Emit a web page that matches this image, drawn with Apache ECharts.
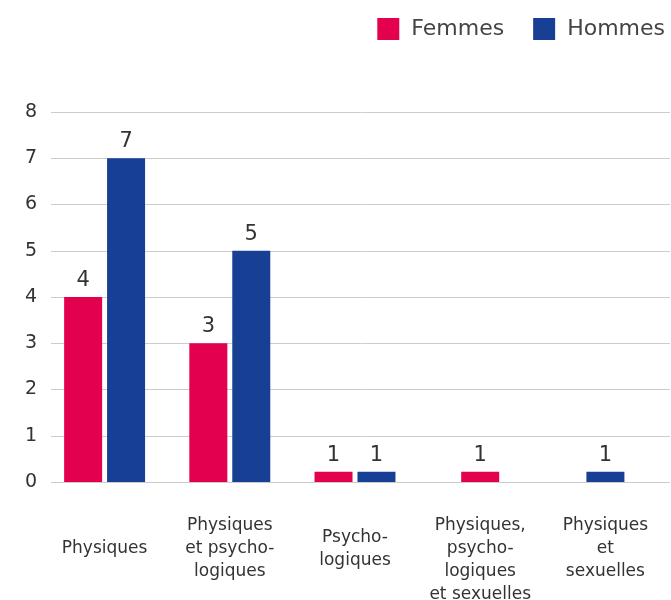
<!DOCTYPE html>
<html><head><meta charset="utf-8">
<script src="https://cdn.jsdelivr.net/npm/echarts@6/dist/echarts.min.js"></script>
<style>html,body{margin:0;padding:0;background:#fff}#c{width:671px;height:600px}</style>
</head><body><div id="c"></div>
<script>
const categories = ['Physiques', 'Physiques\net psycho-\nlogiques', 'Psycho-\nlogiques', 'Physiques,\npsycho-\nlogiques\net sexuelles', 'Physiques\net\nsexuelles'];
// values shown as labels
const femmesValues = [4, 3, 1, 1, null];
const hommesValues = [7, 5, 1, null, 1];
// bar heights as drawn in the reference
const femmesHeights = [4, 3, 0.22, 0.22, null];
const hommesHeights = [7, 5, 0.22, null, 0.22];
const yTicks = [0, 1, 2, 3, 4, 5, 6, 7, 8];

const RED = '#e3004f', BLUE = '#173f94';
const FONT = 'DejaVu Sans';

const pairedF = [], pairedH = [], single = [];
for (let i = 0; i < categories.length; i++) {
  const hasF = femmesHeights[i] != null, hasH = hommesHeights[i] != null;
  if (hasF && hasH) {
    pairedF.push({value: femmesHeights[i], lab: femmesValues[i]});
    pairedH.push({value: hommesHeights[i], lab: hommesValues[i]});
    single.push(null);
  } else {
    pairedF.push(null); pairedH.push(null);
    if (hasF) single.push({value: femmesHeights[i], lab: femmesValues[i], itemStyle: {color: RED}});
    else if (hasH) single.push({value: hommesHeights[i], lab: hommesValues[i], itemStyle: {color: BLUE}});
    else single.push(null);
  }
}

const labelCfg = {
  show: true, position: 'top', distance: 6,
  fontFamily: FONT, fontSize: 21, color: '#333',
  formatter: p => (p.data && p.data.lab != null) ? String(p.data.lab) : ''
};

const LINE_H = 23;
const catLabelStyle = {fontFamily: FONT, fontSize: 17, lineHeight: LINE_H, color: '#333', verticalAlign: 'middle'};
// labels longer than 3 lines start at the same top as the 3-line ones
const xData = categories.map(c => {
  const lines = c.split('\n').length;
  return lines > 3 ? {value: c, textStyle: Object.assign({}, catLabelStyle, {verticalAlign: 'top', padding: [-1.5 * LINE_H, 0, 0, 0]})} : c;
});

const chart = echarts.init(document.getElementById('c'));
chart.setOption({
  animation: false,
  legend: {
    data: ['Femmes', 'Hommes'], right: 1, top: 13, itemWidth: 22, itemHeight: 22, itemGap: 29,
    icon: 'rect',
    textStyle: {fontFamily: FONT, fontSize: 22, color: '#444', padding: [0, 0, 0, 7]}
  },
  grid: [
    {left: 51, right: 1, top: 112, bottom: 118, outerBoundsMode: 'none', containLabel: false},
    {left: 42, right: 3, top: 112, bottom: 118, outerBoundsMode: 'none', containLabel: false}
  ],
  xAxis: [
    {gridIndex: 0, type: 'category', data: categories, show: false},
    {gridIndex: 1, type: 'category', data: xData,
      axisLine: {show: false}, axisTick: {show: false},
      axisLabel: Object.assign({interval: 0, margin: 67}, catLabelStyle)},
    {gridIndex: 1, type: 'category', data: categories, show: false}
  ],
  yAxis: [
    {gridIndex: 0, type: 'value', min: yTicks[0], max: yTicks[yTicks.length - 1], interval: 1,
      axisLine: {show: false}, axisTick: {show: false},
      splitLine: {lineStyle: {color: '#cccccc', width: 1}},
      axisLabel: {margin: 14, fontFamily: FONT, fontSize: 19, color: '#333'}},
    {gridIndex: 1, type: 'value', min: yTicks[0], max: yTicks[yTicks.length - 1], interval: 1, show: false, splitLine: {show: false}}
  ],
  series: [
    {name: 'Femmes', type: 'bar', xAxisIndex: 1, yAxisIndex: 1, data: pairedF, barWidth: 38, barGap: '13%', itemStyle: {color: RED}, label: labelCfg},
    {name: 'Hommes', type: 'bar', xAxisIndex: 1, yAxisIndex: 1, data: pairedH, barWidth: 38, barGap: '13%', itemStyle: {color: BLUE}, label: labelCfg},
    {name: 'single', type: 'bar', xAxisIndex: 2, yAxisIndex: 1, data: single, barWidth: 38, label: labelCfg}
  ]
});
</script></body></html>
